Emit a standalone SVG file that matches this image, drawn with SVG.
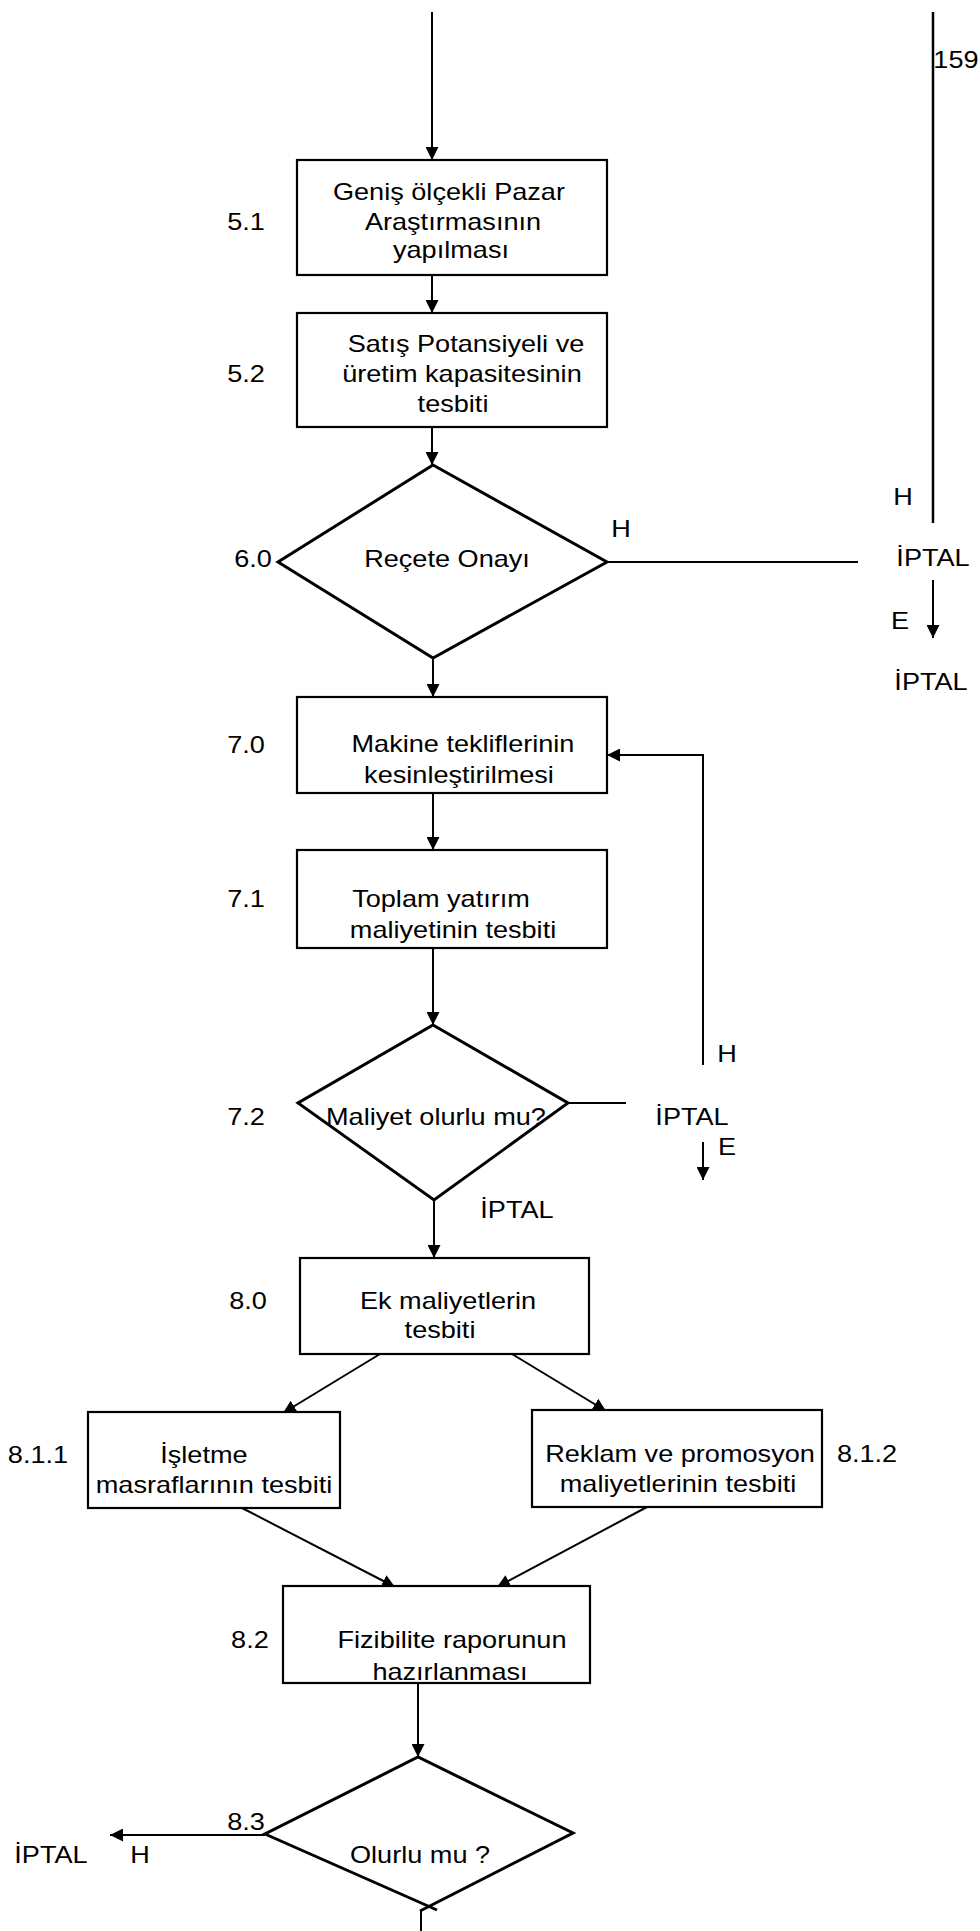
<svg xmlns="http://www.w3.org/2000/svg" width="980" height="1931" viewBox="0 0 980 1931">
  <style>
    .box { fill: #fff; stroke: #000; stroke-width: 2.2; }
    .dia { fill: #fff; stroke: #000; stroke-width: 3; stroke-linejoin: miter; }
    .ln { fill: none; stroke: #000; stroke-width: 2; }
    .arr { fill: none; stroke: #000; stroke-width: 2; marker-end: url(#ah); }
    text { font-family: "Liberation Sans", Arial, sans-serif; font-size: 24px; fill: #000; text-anchor: middle; }
  </style>
  <defs>
    <marker id="ah" viewBox="0 0 10 10" refX="10" refY="5" markerUnits="userSpaceOnUse" markerWidth="13" markerHeight="13" orient="auto">
      <path d="M0,0 L10,5 L0,10 z" fill="#000"/>
    </marker>
  </defs>
  <rect width="980" height="1931" fill="#fff"/>

  <!-- connectors -->
  <g id="connectors">
    <line class="arr" x1="432" y1="12" x2="432" y2="160"/>
    <line class="arr" x1="432" y1="275" x2="432" y2="313"/>
    <line class="arr" x1="432" y1="427" x2="432" y2="465"/>
    <line class="ln" x1="607" y1="562" x2="858" y2="562"/>
    <line class="ln" x1="933" y1="12" x2="933" y2="523" style="stroke-width:2.5"/>
    <line class="arr" x1="933" y1="580" x2="933" y2="638"/>
    <line class="arr" x1="433" y1="658" x2="433" y2="697"/>
    <line class="arr" x1="433" y1="793" x2="433" y2="850"/>
    <polyline class="arr" points="703,1065 703,755 607,755"/>
    <line class="arr" x1="433" y1="948" x2="433" y2="1025"/>
    <line class="ln" x1="568" y1="1103" x2="626" y2="1103"/>
    <line class="arr" x1="703" y1="1142" x2="703" y2="1180"/>
    <line class="arr" x1="434" y1="1200" x2="434" y2="1258"/>
    <line class="arr" x1="380" y1="1354" x2="283" y2="1413"/>
    <line class="arr" x1="512" y1="1354" x2="606" y2="1411"/>
    <line class="arr" x1="242" y1="1508" x2="395" y2="1587"/>
    <line class="arr" x1="647" y1="1507" x2="497" y2="1587"/>
    <line class="arr" x1="418" y1="1683" x2="418" y2="1757"/>
    <line class="arr" x1="265" y1="1835" x2="110" y2="1835"/>
    <line class="ln" x1="421" y1="1910" x2="421" y2="1931"/>
  </g>

  <!-- page number -->
  <g id="page-no" transform="scale(1.13 1)">
    <text x="846" y="68">159</text>
  </g>

  <g id="n5-1">
    <rect class="box" x="297" y="160" width="310" height="115"/>
    <g transform="scale(1.13 1)">
      <text x="217.7" y="230">5.1</text>
      <text x="397.3" y="200">Geniş ölçekli Pazar</text>
      <text x="400.9" y="230">Araştırmasının</text>
      <text x="399.1" y="258">yapılması</text>
    </g>
  </g>

  <g id="n5-2">
    <rect class="box" x="297" y="313" width="310" height="114"/>
    <g transform="scale(1.13 1)">
      <text x="217.7" y="382">5.2</text>
      <text x="412.4" y="352">Satış Potansiyeli ve</text>
      <text x="408.8" y="382">üretim kapasitesinin</text>
      <text x="400.9" y="412">tesbiti</text>
    </g>
  </g>

  <g id="n6-0">
    <polygon class="dia" points="433,465 607,562 433,658 278,562"/>
    <g transform="scale(1.13 1)">
      <text x="223.9" y="567">6.0</text>
      <text x="395.6" y="567">Reçete Onayı</text>
      <text x="549.6" y="537">H</text>
    </g>
  </g>

  <g id="iptal-6">
    <g transform="scale(1.13 1)">
      <text x="799.1" y="505">H</text>
      <text x="825.7" y="566">İPTAL</text>
      <text x="796.5" y="629">E</text>
      <text x="823.9" y="690">İPTAL</text>
    </g>
  </g>

  <g id="n7-0">
    <rect class="box" x="297" y="697" width="310" height="96"/>
    <g transform="scale(1.13 1)">
      <text x="217.7" y="753">7.0</text>
      <text x="409.7" y="752">Makine tekliflerinin</text>
      <text x="406.2" y="783">kesinleştirilmesi</text>
    </g>
  </g>

  <g id="n7-1">
    <rect class="box" x="297" y="850" width="310" height="98"/>
    <g transform="scale(1.13 1)">
      <text x="217.7" y="907">7.1</text>
      <text x="390.3" y="907">Toplam yatırım</text>
      <text x="400.9" y="938">maliyetinin tesbiti</text>
    </g>
  </g>

  <g id="n7-2">
    <polygon class="dia" points="433,1025 568,1103 434,1200 298,1103"/>
    <g transform="scale(1.13 1)">
      <text x="217.7" y="1125">7.2</text>
      <text x="385.8" y="1125">Maliyet olurlu mu?</text>
    </g>
  </g>

  <g id="iptal-7">
    <g transform="scale(1.13 1)">
      <text x="643.4" y="1062">H</text>
      <text x="612.4" y="1125">İPTAL</text>
      <text x="643.4" y="1155">E</text>
      <text x="457.5" y="1218">İPTAL</text>
    </g>
  </g>

  <g id="n8-0">
    <rect class="box" x="300" y="1258" width="289" height="96"/>
    <g transform="scale(1.13 1)">
      <text x="219.5" y="1309">8.0</text>
      <text x="396.5" y="1309">Ek maliyetlerin</text>
      <text x="389.4" y="1338">tesbiti</text>
    </g>
  </g>

  <g id="n8-1-1">
    <rect class="box" x="88" y="1412" width="252" height="96"/>
    <g transform="scale(1.13 1)">
      <text x="33.6" y="1463">8.1.1</text>
      <text x="180.5" y="1463">İşletme</text>
      <text x="189.4" y="1493">masraflarının tesbiti</text>
    </g>
  </g>

  <g id="n8-1-2">
    <rect class="box" x="532" y="1410" width="290" height="97"/>
    <g transform="scale(1.13 1)">
      <text x="601.8" y="1462">Reklam ve promosyon</text>
      <text x="600.0" y="1492">maliyetlerinin tesbiti</text>
      <text x="767.3" y="1462">8.1.2</text>
    </g>
  </g>

  <g id="n8-2">
    <rect class="box" x="283" y="1586" width="307" height="97"/>
    <g transform="scale(1.13 1)">
      <text x="221.2" y="1648">8.2</text>
      <text x="400.0" y="1648">Fizibilite raporunun</text>
      <text x="398.2" y="1680">hazırlanması</text>
    </g>
  </g>

  <g id="n8-3">
    <!-- lower edges cross slightly past the bottom corner -->
    <polyline class="dia" points="428,1906 265,1834 418,1757 573,1833 420,1911"/>
    <line class="dia" x1="428" y1="1906" x2="437" y2="1910"/>
    <g transform="scale(1.13 1)">
      <text x="217.7" y="1830">8.3</text>
      <text x="371.7" y="1863">Olurlu mu ?</text>
    </g>
  </g>

  <g id="iptal-8">
    <g transform="scale(1.13 1)">
      <text x="45.1" y="1863">İPTAL</text>
      <text x="123.9" y="1863">H</text>
    </g>
  </g>
</svg>
